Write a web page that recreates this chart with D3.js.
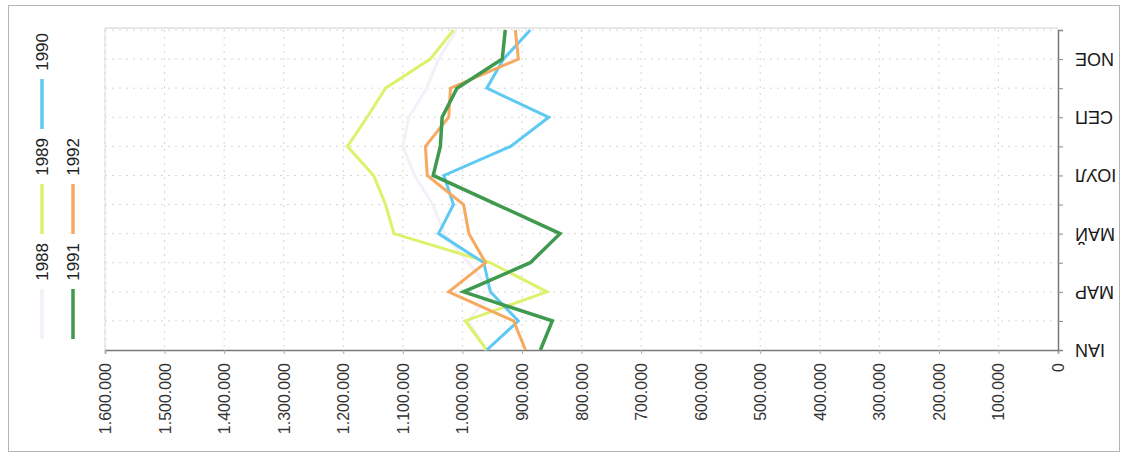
<!DOCTYPE html>
<html><head><meta charset="utf-8">
<script src="https://cdn.jsdelivr.net/npm/d3@7"></script>
<style>body{margin:0;background:#fff}svg{display:block;font-family:"Liberation Sans",Arial,sans-serif}</style>
</head><body><svg id="c" width="1126" height="455"></svg>
<script>
const months = ["IAN","FEB","MAP","APR","MAЙ","IUN","IОУЛ","AUG","СЕП","OCT","NOE","DEC"];
const shownMonths = ["IAN","MAP","MAЙ","IОУЛ","СЕП","NOE"];
const valueTicks = [0,100000,200000,300000,400000,500000,600000,700000,800000,900000,1000000,1100000,1200000,1300000,1400000,1500000,1600000];
const seriesNames = ["1988","1989","1990","1991","1992"];
const s1988 = [960000,990000,950000,990000,1030000,1050000,1080000,1100000,1090000,1060000,1040000,1010000];
const s1989 = [959000,995000,858000,953000,1115000,1129000,1149000,1193000,1160000,1129000,1054000,1015000];
const s1990 = [959000,906000,953000,964000,1040000,1015000,1031000,919000,855000,959000,931000,886000];
const s1991 = [869000,849000,998000,886000,836000,942000,1049000,1037000,1034000,1009000,933000,928000];
const s1992 = [894000,914000,1023000,961000,989000,998000,1059000,1062000,1023000,1020000,906000,911000];
const colors = {"1988":"#f3f0f9","1989":"#dcf26c","1990":"#5ec9f2","1991":"#3f9a4f","1992":"#f6a95f"};

const svg = d3.select("#c");
const L = 105, R = 1058, T = 30, B = 350;
const x = d3.scaleLinear().domain([0,1600000]).range([R,L]);
const y = d3.scalePoint().domain(months).range([B,T]);
const loc = d3.formatLocale({decimal:",",thousands:".",grouping:[3],currency:["",""]});
const fmt = loc.format(",");

svg.append("rect").attr("x",8.5).attr("y",5.5).attr("width",1111).attr("height",446)
  .attr("fill","none").attr("stroke","#b5b5b5");

svg.append("line").attr("x1",L).attr("x2",R).attr("y1",T-2).attr("y2",T-2).attr("stroke","#cfcfcf");
svg.append("line").attr("x1",L).attr("x2",L).attr("y1",T-2).attr("y2",B).attr("stroke","#dcdcdc");

svg.append("g").selectAll("line").data(valueTicks.filter(v=>v>0)).join("line")
  .attr("x1",d=>x(d)).attr("x2",d=>x(d)).attr("y1",T).attr("y2",B)
  .attr("stroke","#d6d6d6").attr("stroke-dasharray","2,5");
svg.append("g").selectAll("line").data(months.slice(1)).join("line")
  .attr("x1",L).attr("x2",R).attr("y1",d=>y(d)).attr("y2",d=>y(d))
  .attr("stroke","#d6d6d6").attr("stroke-dasharray","2,5");

const ax = svg.append("g").attr("transform",`translate(0,${B})`)
  .call(d3.axisBottom(x).tickValues(valueTicks).tickFormat(fmt).tickSize(4));
ax.select(".domain").attr("stroke","#777").attr("stroke-width",1.5);
ax.selectAll(".tick line").attr("stroke","#aaa");
ax.selectAll(".tick text").attr("font-size",16).attr("fill","#333")
  .attr("text-anchor","end").attr("dominant-baseline","central")
  .attr("transform","translate(0,13) rotate(-90)").attr("x",0).attr("y",0).attr("dy",null);

const ay = svg.append("g").attr("transform",`translate(${R},0)`)
  .call(d3.axisRight(y).tickSize(5).tickFormat(""));
ay.select(".domain").attr("stroke","#777").attr("stroke-width",1.5);
ay.selectAll(".tick line").attr("stroke","#888");
svg.append("g").selectAll("text").data(months.filter(m=>shownMonths.includes(m))).join("text")
  .attr("transform",d=>`translate(1075,${y(d)}) rotate(180)`)
  .attr("text-anchor","end").attr("dominant-baseline","central")
  .attr("font-size",18).attr("fill","#1a1a1a").text(d=>d);

const data = {"1988":s1988,"1989":s1989,"1990":s1990,"1991":s1991,"1992":s1992};
const line = d3.line().x(d=>x(d.v)).y(d=>y(d.m));
["1988","1989","1990","1992","1991"].forEach(name=>{
  svg.append("path").datum(data[name].map((v,i)=>({v,m:months[i]})))
    .attr("d",line).attr("fill","none").attr("stroke",colors[name])
    .attr("stroke-width",name==="1991"?3.5:3).attr("stroke-linejoin","miter");
});

const legendPos = [
  {n:"1990",cx:42,ty:33},{n:"1989",cx:42,ty:138},{n:"1988",cx:42,ty:243},
  {n:"1992",cx:73,ty:138},{n:"1991",cx:73,ty:243}
];
const lg = svg.append("g");
legendPos.forEach(p=>{
  lg.append("text").attr("transform",`translate(${p.cx},${p.ty}) rotate(-90)`)
    .attr("text-anchor","end").attr("dominant-baseline","central")
    .attr("font-size",17).attr("fill","#222").text(p.n);
  lg.append("line").attr("x1",p.cx).attr("x2",p.cx).attr("y1",p.ty+46).attr("y2",p.ty+96)
    .attr("stroke",colors[p.n]).attr("stroke-width",3.5);
});
</script></body></html>
